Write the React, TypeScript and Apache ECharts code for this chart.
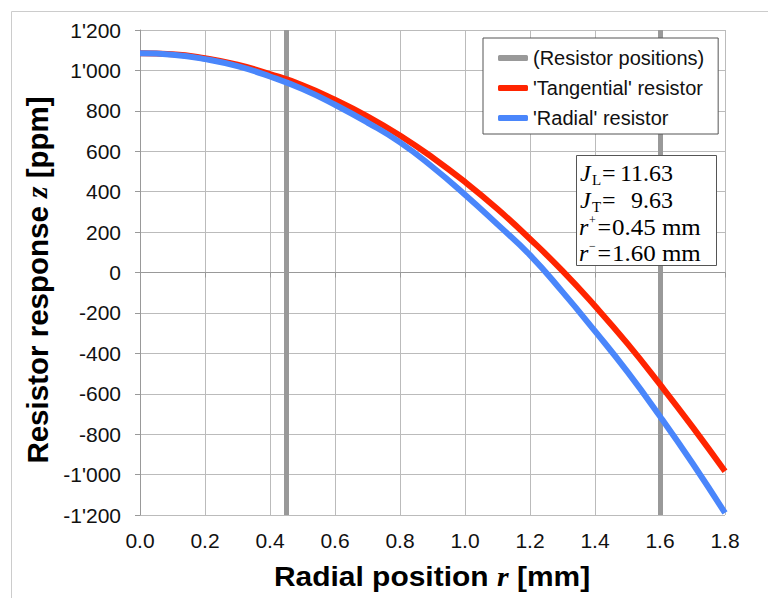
import React, { useEffect, useRef } from "react";
import * as echarts from "echarts";

const radialPositions = [0, 0.1, 0.2, 0.3, 0.4, 0.5, 0.6, 0.7, 0.8, 0.9, 1.0, 1.1, 1.2, 1.3, 1.4, 1.5, 1.6, 1.7, 1.8];
const tangentialResistor = [1085, 1080, 1060, 1028, 982, 927, 855, 773, 678, 569, 448, 314, 166, 8, -166, -352, -554, -764, -984];
const radialResistor = [1085, 1078, 1056, 1021, 970, 908, 830, 742, 644, 522, 385, 238, 86, -96, -290, -492, -712, -944, -1190];
const resistorPositions = [0.45, 1.6];
const seriesNames = ["(Resistor positions)", "'Tangential' resistor", "'Radial' resistor"];
const infoValues = ["11.63", "9.63", "0.45 mm", "1.60 mm"];
const xTitle = "Radial position {r|r} [mm]";
const yTitle = "Resistor response {z|z} [ppm]";

const SANS = "'Liberation Sans', Arial, Helvetica, sans-serif";
const SERIF = "'Liberation Serif', 'Times New Roman', serif";

function fmtY(v: number): string {
  const s = Math.abs(v).toString();
  const t = s.length > 3 ? s.slice(0, -3) + "'" + s.slice(-3) : s;
  return (v < 0 ? "-" : "") + t;
}

export default function App() {
  const ref = useRef<HTMLDivElement>(null);
  useEffect(() => {
    if (!ref.current) return;
    const chart = echarts.init(ref.current, null, { renderer: "svg" });
    const rowY = [173, 200, 227, 253];
    const fs = 24;
    const t = (x: number, y: number, text: string, font: string, align = "left", scaleX = 1) => ({
      type: "text",
      x,
      y,
      z: 101,
      scaleX,
      style: { text, font, fill: "#000", verticalAlign: "middle", align },
    });
    chart.setOption({
      animation: false,
      backgroundColor: "#ffffff",
      grid: { left: 140, right: 43, top: 30, bottom: 83, containLabel: false },
      xAxis: {
        type: "value",
        min: 0,
        max: 1.8,
        interval: 0.2,
        axisLine: { show: true, lineStyle: { color: "#999", width: 1 } },
        axisTick: { show: true, length: 5, lineStyle: { color: "#999" } },
        axisLabel: { fontSize: 21, fontFamily: SANS, color: "#111", margin: 15, formatter: (v: number) => v.toFixed(1) },
        splitLine: { show: true, lineStyle: { color: "#bbb", width: 1 } },
      },
      yAxis: {
        type: "value",
        min: -1200,
        max: 1200,
        interval: 200,
        axisLine: { show: true, lineStyle: { color: "#999", width: 1 } },
        axisTick: { show: true, length: 5, lineStyle: { color: "#999" } },
        axisLabel: { fontSize: 21, fontFamily: SANS, color: "#111", margin: 19, formatter: fmtY },
        splitLine: { show: true, lineStyle: { color: "#bbb", width: 1 } },
      },
      legend: {
        orient: "vertical",
        left: 483,
        top: 38,
        z: 20,
        data: seriesNames,
        icon: "roundRect",
        itemWidth: 30,
        itemHeight: 6,
        itemGap: 10,
        padding: [10, 14, 6, 15],
        borderColor: "#555",
        borderWidth: 1,
        backgroundColor: "#fff",
        textStyle: { fontSize: 20, fontFamily: SANS, color: "#111" },
      },
      series: [
        {
          name: seriesNames[0],
          type: "line",
          data: [],
          itemStyle: { color: "#999" },
          lineStyle: { color: "#999", width: 5 },
          z: 1,
          markLine: {
            silent: true,
            symbol: "none",
            z: 1,
            label: { show: false },
            lineStyle: { color: "#999", width: 5, type: "solid" },
            data: resistorPositions.map((x) => ({ xAxis: x })),
          },
        },
        {
          name: seriesNames[1],
          type: "line",
          smooth: true,
          showSymbol: false,
          z: 3,
          itemStyle: { color: "#ff2400" },
          lineStyle: { color: "#ff2400", width: 6 },
          data: radialPositions.map((r, i) => [r, tangentialResistor[i]]),
        },
        {
          name: seriesNames[2],
          type: "line",
          smooth: true,
          showSymbol: false,
          z: 4,
          itemStyle: { color: "#4a86fb" },
          lineStyle: { color: "#4a86fb", width: 6 },
          data: radialPositions.map((r, i) => [r, radialResistor[i]]),
        },
      ],
      graphic: [
        {
          type: "rect",
          left: 9,
          top: 9,
          silent: true,
          z: -10,
          shape: { x: 0, y: 0, width: 900, height: 700 },
          style: { fill: "none", stroke: "#ccc", lineWidth: 1 },
        },
        {
          type: "text",
          x: 432,
          y: 576,
          z: 50,
          scaleX: 1.07,
          style: {
            text: xTitle,
            fontSize: 28,
            fontWeight: "bold",
            fontFamily: SANS,
            fill: "#000",
            align: "center",
            verticalAlign: "middle",
            rich: { r: { fontFamily: SERIF, fontStyle: "italic", fontWeight: "bold", fontSize: 28, fill: "#000" } },
          },
        },
        {
          type: "text",
          x: 37,
          y: 280,
          z: 50,
          rotation: Math.PI / 2,
          style: {
            text: yTitle,
            fontSize: 29.5,
            fontWeight: "bold",
            fontFamily: SANS,
            fill: "#000",
            align: "center",
            verticalAlign: "middle",
            rich: { z: { fontFamily: SERIF, fontStyle: "italic", fontWeight: "bold", fontSize: 29.5, fill: "#000" } },
          },
        },
        { type: "rect", z: 100, shape: { x: 576.5, y: 155.5, width: 140, height: 110 }, style: { fill: "#fff", stroke: "#555", lineWidth: 1 } },
        t(580, rowY[0], "J", `italic ${fs}px ${SERIF}`),
        t(592, rowY[0] + 7, "L", `15px ${SERIF}`),
        t(602, rowY[0], "=", `${fs}px ${SERIF}`),
        t(673, rowY[0], infoValues[0], `${fs}px ${SERIF}`, "right"),
        t(580, rowY[1], "J", `italic ${fs}px ${SERIF}`),
        t(592, rowY[1] + 7, "T", `15px ${SERIF}`),
        t(602, rowY[1], "=", `${fs}px ${SERIF}`),
        t(673, rowY[1], infoValues[1], `${fs}px ${SERIF}`, "right"),
        t(579, rowY[2], "r", `italic ${fs}px ${SERIF}`),
        t(589, rowY[2] - 7, "+", `12px ${SERIF}`),
        t(597.5, rowY[2], "=", `${fs}px ${SERIF}`),
        t(612, rowY[2], infoValues[2], `${fs}px ${SERIF}`, "left", 1.04),
        t(579, rowY[3], "r", `italic ${fs}px ${SERIF}`),
        t(589, rowY[3] - 7, "\u2212", `12px ${SERIF}`),
        t(597.5, rowY[3], "=", `${fs}px ${SERIF}`),
        t(612, rowY[3], infoValues[3], `${fs}px ${SERIF}`, "left", 1.04),
      ],
    });
    return () => chart.dispose();
  }, []);
  return <div ref={ref} style={{ position: "fixed", left: 0, top: 0, width: 768, height: 598 }} />;
}
